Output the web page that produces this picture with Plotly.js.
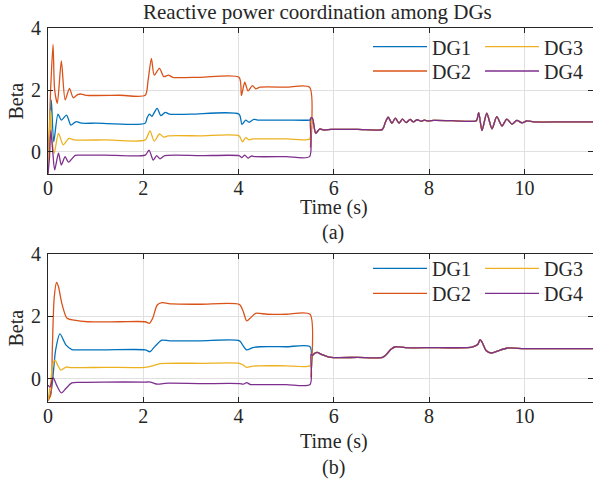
<!DOCTYPE html>
<html><head><meta charset="utf-8">
<script src="https://cdn.plot.ly/plotly-3.0.1.min.js"></script>
<style>html,body{margin:0;padding:0;background:#fff}#chart{width:593px;height:480px}</style>
</head><body><div id="chart"></div>
<script>
// ---------- data ----------
const seriesNames = ['DG1', 'DG2', 'DG3', 'DG4'];
const seriesColors = ['#0072BD', '#D95319', '#EDB120', '#7E2F8E'];
const xTicks = [0, 2, 4, 6, 8, 10];
const yTicks = [0, 2, 4];

// (a) individual parts before convergence
const a1T = [0, 0.03, 0.07, 0.12, 0.21, 0.28, 0.39, 0.48, 0.59, 0.7, 1.0, 2.04, 2.08, 2.13, 2.18, 2.29, 2.37, 2.46, 2.55, 3.0, 4.01, 4.07, 4.15, 4.22, 4.32, 4.4, 5.0, 5.49, 5.52];
const a1Y = [-0.6, 0.5, 1.68, 0.33, 1.22, 1.03, 1.19, 0.87, 0.98, 0.93, 0.93, 0.93, 1.1, 1.22, 1.15, 1.41, 1.17, 1.28, 1.22, 1.22, 1.22, 0.89, 1.03, 0.96, 1.05, 1.03, 1.03, 1.03, 1.05];
const a2T = [0, 0.05, 0.105, 0.14, 0.196, 0.28, 0.36, 0.45, 0.53, 0.62, 0.7, 0.8, 1.5, 2.04, 2.1, 2.17, 2.23, 2.34, 2.43, 2.53, 2.62, 3.2, 4.01, 4.06, 4.13, 4.2, 4.29, 4.36, 4.45, 5.0, 5.49, 5.51, 5.53];
const a2Y = [-0.7, 1.8, 3.47, 2.0, 1.57, 2.94, 1.68, 2.05, 1.75, 1.85, 1.87, 1.83, 1.83, 1.83, 2.3, 3.02, 2.48, 2.7, 2.43, 2.48, 2.41, 2.41, 2.41, 1.82, 2.25, 1.97, 2.14, 2.04, 2.09, 2.09, 2.09, 0.15, 0.6];
const a3T = [0, 0.03, 0.05, 0.08, 0.13, 0.22, 0.32, 0.44, 0.55, 1.2, 2.04, 2.14, 2.23, 2.34, 2.43, 2.52, 3.2, 4.01, 4.08, 4.15, 4.22, 4.3, 5.0, 5.49, 5.52];
const a3Y = [-0.6, 0.6, 1.35, 0.5, -0.04, 0.6, 0.23, 0.44, 0.39, 0.39, 0.39, 0.68, 0.35, 0.58, 0.48, 0.52, 0.52, 0.52, 0.33, 0.46, 0.39, 0.42, 0.42, 0.42, 0.8];
const a4T = [0, 0.03, 0.06, 0.1, 0.14, 0.22, 0.28, 0.36, 0.43, 0.57, 0.7, 1.2, 2.04, 2.12, 2.21, 2.28, 2.35, 2.45, 3.2, 4.01, 4.07, 4.13, 4.2, 4.27, 4.35, 5.0, 5.49, 5.51];
const a4Y = [-0.7, -0.2, 0.7, 0.0, -0.58, -0.04, -0.42, -0.15, -0.33, -0.11, -0.1, -0.1, -0.1, 0.06, -0.26, -0.12, -0.22, -0.12, -0.12, -0.12, -0.18, -0.1, -0.2, -0.13, -0.15, -0.15, -0.15, 1.1];
// (a) common part after convergence
const aTailT = [5.55, 5.62, 5.7, 5.8, 5.95, 6.5, 7.02, 7.08, 7.14, 7.22, 7.29, 7.37, 7.44, 7.52, 7.6, 7.67, 7.75, 7.83, 7.9, 7.98, 8.1, 8.5, 8.99, 9.04, 9.11, 9.21, 9.32, 9.42, 9.53, 9.63, 9.74, 9.84, 9.95, 10.05, 10.2, 10.8, 11.44];
const aTailY = [1.09, 0.6, 0.74, 0.71, 0.73, 0.73, 0.73, 0.95, 1.12, 0.93, 1.09, 0.93, 1.06, 0.95, 1.05, 0.97, 1.04, 0.99, 1.03, 1.0, 1.02, 1.01, 1.01, 1.27, 0.69, 1.25, 0.75, 1.14, 0.84, 1.06, 0.9, 1.02, 0.94, 1.0, 0.97, 0.97, 0.97];

// (b) individual parts before convergence
const b1T = [0, 0.05, 0.09, 0.16, 0.25, 0.38, 0.5, 0.65, 1.2, 2.04, 2.14, 2.25, 2.39, 2.55, 3.2, 4.02, 4.1, 4.17, 4.3, 4.45, 5.0, 5.5, 5.53];
const b1Y = [-0.7, -0.5, -0.15, 0.92, 1.44, 1.08, 0.94, 0.93, 0.93, 0.93, 0.87, 1.05, 1.24, 1.22, 1.22, 1.22, 1.05, 0.93, 1.0, 1.03, 1.03, 1.03, 0.34];
const b2T = [0, 0.06, 0.09, 0.13, 0.18, 0.22, 0.29, 0.4, 0.55, 0.83, 1.5, 2.04, 2.13, 2.2, 2.29, 2.39, 2.6, 3.2, 4.02, 4.1, 4.17, 4.26, 4.36, 4.6, 5.0, 5.5, 5.52];
const b2Y = [-0.7, -0.5, 0.92, 2.6, 3.09, 2.95, 2.42, 1.94, 1.88, 1.83, 1.83, 1.83, 1.78, 1.95, 2.36, 2.44, 2.4, 2.39, 2.38, 2.15, 1.86, 1.97, 2.1, 2.07, 2.07, 2.07, 0.06];
const b3T = [0, 0.05, 0.1, 0.15, 0.2, 0.27, 0.38, 0.5, 1.2, 2.04, 2.2, 2.35, 2.5, 3.2, 4.02, 4.1, 4.17, 4.3, 4.45, 5.0, 5.5, 5.53];
const b3Y = [-0.7, -0.2, 0.45, 0.6, 0.45, 0.28, 0.38, 0.36, 0.37, 0.37, 0.42, 0.49, 0.5, 0.5, 0.5, 0.44, 0.37, 0.41, 0.42, 0.42, 0.42, 0.8];
const b4T = [0, 0.04, 0.11, 0.18, 0.28, 0.38, 0.5, 0.65, 1.2, 2.04, 2.15, 2.3, 2.45, 3.2, 4.02, 4.1, 4.17, 4.25, 4.35, 5.0, 5.5, 5.52];
const b4Y = [-0.2, -0.26, 0.04, -0.2, -0.45, -0.3, -0.13, -0.11, -0.1, -0.1, -0.1, -0.17, -0.14, -0.15, -0.15, -0.17, -0.12, -0.18, -0.18, -0.18, -0.18, 0.8];
// (b) common part after convergence
const bTailT = [5.55, 5.6, 5.65, 5.75, 5.94, 6.5, 7.02, 7.1, 7.2, 7.3, 7.5, 8.0, 8.9, 9.02, 9.07, 9.12, 9.2, 9.31, 9.45, 9.65, 10.0, 10.8, 11.44];
const bTailY = [0.75, 0.82, 0.85, 0.78, 0.69, 0.69, 0.69, 0.78, 0.95, 1.03, 1.0, 1.0, 1.02, 1.1, 1.26, 1.15, 0.9, 0.83, 0.9, 0.99, 0.97, 0.97, 0.97];

// ---------- build ----------
const FONT = 'Liberation Serif';
const TXT = '#262626';
const W = 593, H = 480, ML = 48, MR = 0;
const PW = W - ML - MR;
const px2x = p => (p - ML) / PW;
const px2y = p => 1 - p / H;

const headsA = [[a1T, a1Y], [a2T, a2Y], [a3T, a3Y], [a4T, a4Y]];
const headsB = [[b1T, b1Y], [b2T, b2Y], [b3T, b3Y], [b4T, b4Y]];

const traces = [];
headsA.forEach((h, i) => {
  traces.push({
    x: h[0].concat(aTailT), y: h[1].concat(aTailY), type: 'scatter', mode: 'lines',
    name: seriesNames[i], xaxis: 'x', yaxis: 'y',
    line: {color: seriesColors[i], width: 1.3, shape: 'spline', smoothing: 0.7},
    legend: i === 0 ? 'legend' : 'legend' + (i + 1)
  });
});
headsB.forEach((h, i) => {
  traces.push({
    x: h[0].concat(bTailT), y: h[1].concat(bTailY), type: 'scatter', mode: 'lines',
    name: seriesNames[i], xaxis: 'x2', yaxis: 'y2',
    line: {color: seriesColors[i], width: 1.3, shape: 'spline', smoothing: 0.7},
    legend: 'legend' + (i + 5)
  });
});

const tickFont = {family: FONT, size: 20, color: TXT};
const axBase = {
  showline: true, linecolor: TXT, linewidth: 1, mirror: 'ticks',
  ticks: 'inside', ticklen: 5, tickcolor: TXT, tickwidth: 1,
  showgrid: true, gridcolor: '#e0e0e0', gridwidth: 1, zeroline: false,
  tickfont: tickFont
};
const xa = Object.assign({}, axBase, {range: [0, 11.44], tickvals: xTicks, ticktext: xTicks.map(String), ticklabelstandoff: -4});
const ya = Object.assign({}, axBase, {range: [-0.71, 4], tickvals: yTicks, ticktext: yTicks.map(String), ticklabelstandoff: 2});

// legend centres (pixels): column line starts 373 / 485, rows
const colX = [368, 480];
const rowsA = [46.7, 71];
const rowsB = [268.3, 293.3];
function leg(colPx, rowPx) {
  return {
    x: px2x(colPx), xanchor: 'left', xref: 'paper',
    y: px2y(rowPx - 19.5), yanchor: 'top', yref: 'paper',
    bgcolor: 'rgba(0,0,0,0)', borderwidth: 0, itemwidth: 54,
    font: {family: FONT, size: 20, color: TXT}
  };
}
function ann(text, xp, yp, size, angle) {
  return {text: text, xref: 'paper', yref: 'paper', x: px2x(xp), y: px2y(yp), xanchor: 'center', yanchor: 'middle',
          textangle: angle || 0, showarrow: false, font: {family: FONT, size: size, color: TXT}};
}

const layout = {
  width: W, height: H,
  margin: {l: ML, r: MR, t: 0, b: 0, pad: 0},
  paper_bgcolor: '#fff', plot_bgcolor: '#fff',
  font: {family: FONT, size: 20, color: TXT},
  showlegend: true,
  xaxis: Object.assign({}, xa, {domain: [0, 1], anchor: 'y'}),
  yaxis: Object.assign({}, ya, {domain: [px2y(174), px2y(28)], anchor: 'x'}),
  xaxis2: Object.assign({}, xa, {domain: [0, 1], anchor: 'y2'}),
  yaxis2: Object.assign({}, ya, {range: [-0.73, 4], domain: [px2y(401.7), px2y(254)], anchor: 'x2'}),
  legend: leg(colX[0], rowsA[0]),
  legend2: leg(colX[0], rowsA[1]),
  legend3: leg(colX[1], rowsA[0]),
  legend4: leg(colX[1], rowsA[1]),
  legend5: leg(colX[0], rowsB[0]),
  legend6: leg(colX[0], rowsB[1]),
  legend7: leg(colX[1], rowsB[0]),
  legend8: leg(colX[1], rowsB[1]),
  shapes: [
    {type: 'rect', layer: 'between', xref: 'paper', yref: 'paper', x0: px2x(365), x1: 1, y0: px2y(83), y1: px2y(29.5), fillcolor: '#fff', line: {width: 0}},
    {type: 'rect', layer: 'between', xref: 'paper', yref: 'paper', x0: px2x(365), x1: 1, y0: px2y(306), y1: px2y(255.5), fillcolor: '#fff', line: {width: 0}}
  ],
  annotations: [
    ann('Reactive power coordination among DGs', 317.5, 12, 21),
    ann('Time (s)', 334, 207, 20),
    ann('(a)', 333, 233, 20),
    ann('Time (s)', 334, 441, 20),
    ann('(b)', 333, 467, 20),
    ann('Beta', 15.5, 101, 20, -90),
    ann('Beta', 15.5, 328, 20, -90)
  ]
};

Plotly.newPlot('chart', traces, layout, {staticPlot: true, displayModeBar: false});
</script></body></html>
